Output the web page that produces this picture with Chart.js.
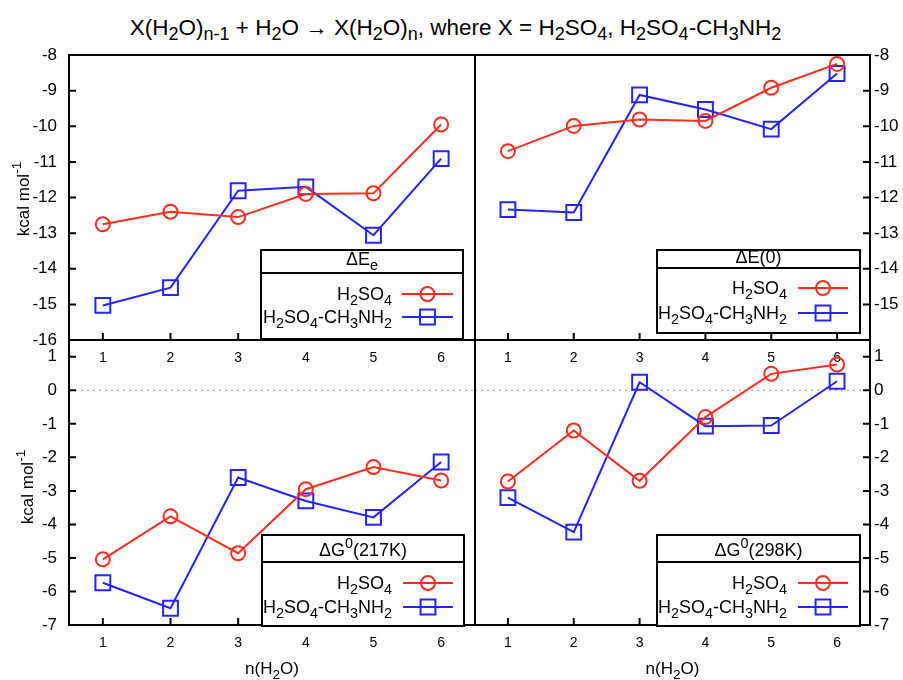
<!DOCTYPE html>
<html>
<head>
<meta charset="utf-8">
<title>Hidratación de H2SO4 y H2SO4-CH3NH2</title>
<script src="https://cdn.jsdelivr.net/npm/chart.js"></script>
<style>
  html, body { margin: 0; padding: 0; background: #fff; }
  #wrap { position: relative; width: 903px; height: 680px; overflow: hidden; }
  #wrap canvas { position: absolute; left: 0; top: 0; }
  #titulo {
    position: absolute; left: 4px; top: 15px; width: 903px;
    text-align: center; white-space: nowrap;
    font: 22.5px "Liberation Sans", Arial, sans-serif; line-height: 26px; color: #000;
  }
  #titulo sub { font-size: 80%; vertical-align: -0.3em; line-height: 0; }
</style>
</head>
<body>
<div id="wrap">
  <div id="titulo">X(H<sub>2</sub>O)<sub>n-1</sub> + H<sub>2</sub>O → X(H<sub>2</sub>O)<sub>n</sub>, where X = H<sub>2</sub>SO<sub>4</sub>, H<sub>2</sub>SO<sub>4</sub>-CH<sub>3</sub>NH<sub>2</sub></div>
  <canvas id="c-ee" width="903" height="680"></canvas>
  <canvas id="c-e0" width="903" height="680"></canvas>
  <canvas id="c-g217" width="903" height="680"></canvas>
  <canvas id="c-g298" width="903" height="680"></canvas>
</div>
<script>
// Datos (kcal/mol)
const nWater = [1, 2, 3, 4, 5, 6];

const eeH2SO4 = [-12.75, -12.40, -12.55, -11.90, -11.88, -9.95];
const eeMA    = [-15.03, -14.53, -11.81, -11.70, -13.06, -10.91];

const e0H2SO4 = [-10.70, -9.99, -9.81, -9.85, -8.92, -8.25];
const e0MA    = [-12.34, -12.42, -9.12, -9.53, -10.08, -8.52];

const g217H2SO4 = [-5.04, -3.76, -4.86, -2.95, -2.29, -2.69];
const g217MA    = [-5.74, -6.50, -2.60, -3.30, -3.79, -2.14];

const g298H2SO4 = [-2.72, -1.20, -2.70, -0.80, 0.49, 0.77];
const g298MA    = [-3.20, -4.23, 0.24, -1.07, -1.05, 0.27];

// Etiquetas de ejes
const topYTicks = [-16, -15, -14, -13, -12, -11, -10, -9, -8];
const topRightYTicks = [-15, -14, -13, -12, -11, -10, -9, -8];
const bottomYTicks = [-7, -6, -5, -4, -3, -2, -1, 0, 1];

// Nombres (con _ subíndice y ^ superíndice)
const seriesNames = ['H_2SO_4', 'H_2SO_4-CH_3NH_2'];
const panelTitles = ['ΔE_e', 'ΔE(0)', 'ΔG^0(217K)', 'ΔG^0(298K)'];
const yTitle = 'kcal mol^{-1}';
const xTitle = 'n(H_2O)';

const FONT = '"Liberation Sans", Arial, sans-serif';
const RED = '#ff2d1e';
const BLUE = '#2424ff';

// Texto con subíndices / superíndices
function parseRich(s) {
  const out = [];
  let buf = '', i = 0;
  while (i < s.length) {
    const c = s[i];
    if (c === '_' || c === '^') {
      if (buf) { out.push({ t: buf, k: 0 }); buf = ''; }
      let t;
      if (s[i + 1] === '{') { const j = s.indexOf('}', i); t = s.slice(i + 2, j); i = j + 1; }
      else { t = s[i + 1]; i += 2; }
      out.push({ t, k: c === '_' ? 1 : -1 });
    } else { buf += c; i++; }
  }
  if (buf) out.push({ t: buf, k: 0 });
  return out;
}

function drawRich(ctx, s, x, y, size, align) {
  const parts = parseRich(s);
  const f = sz => sz + 'px ' + FONT;
  let w = 0;
  parts.forEach(p => {
    ctx.font = f(p.k ? size * 0.8 : size);
    p.w = ctx.measureText(p.t).width;
    w += p.w;
  });
  let cx = align === 'right' ? x - w : align === 'center' ? x - w / 2 : x;
  ctx.textAlign = 'left';
  ctx.textBaseline = 'alphabetic';
  ctx.fillStyle = '#000';
  parts.forEach(p => {
    ctx.font = f(p.k ? size * 0.8 : size);
    const dy = p.k === 1 ? size * 0.3 : p.k === -1 ? -size * 0.45 : 0;
    ctx.fillText(p.t, cx, y + dy);
    cx += p.w;
  });
}

// Marco, ticks hacia dentro, línea del cero, títulos y leyenda tipo gnuplot
const panelDecor = {
  id: 'panelDecor',
  beforeDatasetsDraw(chart, args, opts) {
    const { ctx, chartArea: a, scales: { y } } = chart;
    if (opts.zeroLine) {
      const py = y.getPixelForValue(0);
      ctx.save();
      ctx.strokeStyle = '#9a9a9a';
      ctx.lineWidth = 1;
      ctx.setLineDash([2, 4]);
      ctx.beginPath();
      ctx.moveTo(a.left, py);
      ctx.lineTo(a.right, py);
      ctx.stroke();
      ctx.restore();
    }
  },
  afterDatasetsDraw(chart, args, opts) {
    const { ctx, chartArea: a, scales: { x, y } } = chart;
    ctx.save();
    ctx.strokeStyle = '#000';
    ctx.lineWidth = 2;
    ctx.strokeRect(a.left, a.top, a.right - a.left, a.bottom - a.top);
    ctx.beginPath();
    x.ticks.forEach(t => {
      const px = x.getPixelForValue(t.value);
      ctx.moveTo(px, a.bottom);
      ctx.lineTo(px, a.bottom - 7);
    });
    const left = y.position === 'left';
    y.ticks.forEach(t => {
      const py = y.getPixelForValue(t.value);
      const x0 = left ? a.left : a.right;
      ctx.moveTo(x0, py);
      ctx.lineTo(x0 + (left ? 7 : -7), py);
    });
    ctx.stroke();

    // títulos de ejes
    if (opts.yTitle) {
      ctx.save();
      ctx.translate(opts.yTitle.x, opts.yTitle.y);
      ctx.rotate(-Math.PI / 2);
      drawRich(ctx, yTitle, 0, 0, 17, 'center');
      ctx.restore();
    }
    if (opts.xTitle) {
      drawRich(ctx, xTitle, (a.left + a.right) / 2, opts.xTitle.y, 17, 'center');
    }

    // leyenda
    const L = opts.legend;
    const bx2 = a.right - L.right, bx1 = bx2 - L.width;
    const by1 = a.bottom + L.top, by2 = a.bottom + L.bottom;
    ctx.fillStyle = '#fff';
    ctx.fillRect(bx1, by1, L.width, by2 - by1);
    ctx.strokeRect(bx1, by1, L.width, by2 - by1);
    ctx.beginPath();
    ctx.moveTo(bx1, a.bottom + L.sep);
    ctx.lineTo(bx2, a.bottom + L.sep);
    ctx.stroke();
    drawRich(ctx, L.title, (bx1 + bx2) / 2, a.bottom + L.titleBase, 18, 'center');

    chart.data.datasets.forEach((ds, i) => {
      const ly = a.bottom + L.rows[i];
      drawRich(ctx, seriesNames[i], bx2 - L.textRight, ly + 6, 18, 'right');
      const x1 = bx2 - L.lineFrom, x2 = bx2 - L.lineTo, xm = (x1 + x2) / 2;
      ctx.strokeStyle = ds.borderColor;
      ctx.lineWidth = 2;
      ctx.beginPath();
      ctx.moveTo(x1, ly);
      ctx.lineTo(x2, ly);
      ctx.stroke();
      ctx.beginPath();
      if (ds.pointStyle === 'rect') {
        const h = ds.pointRadius * Math.SQRT1_2;
        ctx.rect(xm - h, ly - h, 2 * h, 2 * h);
      } else {
        ctx.arc(xm, ly, ds.pointRadius, 0, Math.PI * 2);
      }
      ctx.stroke();
    });
    ctx.restore();
  }
};

function makePanel(id, p) {
  const left = p.side === 'left';
  new Chart(document.getElementById(id), {
    type: 'line',
    data: {
      datasets: [
        {
          label: 'H₂SO₄',
          data: nWater.map((n, i) => ({ x: n, y: p.red[i] })),
          borderColor: RED, backgroundColor: 'rgba(0,0,0,0)',
          borderWidth: 2, tension: 0,
          pointStyle: 'circle', pointRadius: 7, pointBorderWidth: 2,
          pointBorderColor: RED, pointBackgroundColor: 'rgba(0,0,0,0)'
        },
        {
          label: 'H₂SO₄-CH₃NH₂',
          data: nWater.map((n, i) => ({ x: n, y: p.blue[i] })),
          borderColor: BLUE, backgroundColor: 'rgba(0,0,0,0)',
          borderWidth: 2, tension: 0,
          pointStyle: 'rect', pointRadius: 10.5, pointBorderWidth: 2,
          pointBorderColor: BLUE, pointBackgroundColor: 'rgba(0,0,0,0)'
        }
      ]
    },
    options: {
      responsive: false,
      animation: false,
      events: [],
      layout: { padding: p.pad },
      plugins: {
        legend: { display: false },
        tooltip: { enabled: false },
        panelDecor: { zeroLine: p.zero, legend: p.legend, yTitle: p.yTitle, xTitle: p.xTitle }
      },
      scales: {
        x: {
          type: 'linear', min: 0.5, max: 6.5,
          grid: { display: false, drawTicks: false },
          border: { display: false },
          afterBuildTicks: s => { s.ticks = nWater.map(v => ({ value: v })); },
          afterFit: s => { s.height = p.xh; },
          ticks: {
            color: '#000', padding: 10, maxRotation: 0, autoSkip: false,
            font: { size: 14, family: FONT },
            callback: v => String(v)
          }
        },
        y: {
          position: p.side, min: p.ymin, max: p.ymax,
          grid: { display: false, drawTicks: false },
          border: { display: false },
          afterBuildTicks: s => { s.ticks = p.yt.map(v => ({ value: v })); },
          afterFit: s => { s.width = left ? 69 : 33; },
          ticks: {
            color: '#000', padding: left ? 12 : 4,
            font: { size: 17, family: FONT },
            callback: v => String(v)
          }
        }
      }
    },
    plugins: [panelDecor]
  });
}

makePanel('c-ee', {
  red: eeH2SO4, blue: eeMA, side: 'left', ymin: -16, ymax: -8, yt: topYTicks,
  pad: { left: 0, top: 55, right: 428, bottom: 0 }, xh: 340,
  yTitle: { x: 29, y: 199 },
  legend: { title: panelTitles[0], right: 12, width: 202, top: -90, sep: -67, bottom: -1,
            titleBase: -75, rows: [-46, -23], textRight: 71, lineFrom: 61, lineTo: 10 }
});

makePanel('c-e0', {
  red: e0H2SO4, blue: e0MA, side: 'right', ymin: -16, ymax: -8, yt: topRightYTicks,
  pad: { left: 475, top: 55, right: 0, bottom: 0 }, xh: 340,
  legend: { title: panelTitles[1], right: 10, width: 203, top: -90, sep: -72, bottom: -7,
            titleBase: -77, rows: [-52, -27], textRight: 73, lineFrom: 62, lineTo: 12 }
});

makePanel('c-g217', {
  red: g217H2SO4, blue: g217MA, side: 'left', ymin: -7, ymax: 1.5, yt: bottomYTicks,
  pad: { left: 0, top: 340, right: 428, bottom: 0 }, xh: 55, zero: true,
  yTitle: { x: 33, y: 487 }, xTitle: { y: 674 },
  legend: { title: panelTitles[2], right: 11, width: 202, top: -90, sep: -63, bottom: 1,
            titleBase: -69, rows: [-42, -18], textRight: 72, lineFrom: 61, lineTo: 11 }
});

makePanel('c-g298', {
  red: g298H2SO4, blue: g298MA, side: 'right', ymin: -7, ymax: 1.5, yt: bottomYTicks,
  pad: { left: 475, top: 340, right: 0, bottom: 0 }, xh: 55, zero: true,
  xTitle: { y: 674 },
  legend: { title: panelTitles[3], right: 10, width: 203, top: -90, sep: -63, bottom: 1,
            titleBase: -69, rows: [-42, -18], textRight: 73, lineFrom: 62, lineTo: 12 }
});
</script>
</body>
</html>
